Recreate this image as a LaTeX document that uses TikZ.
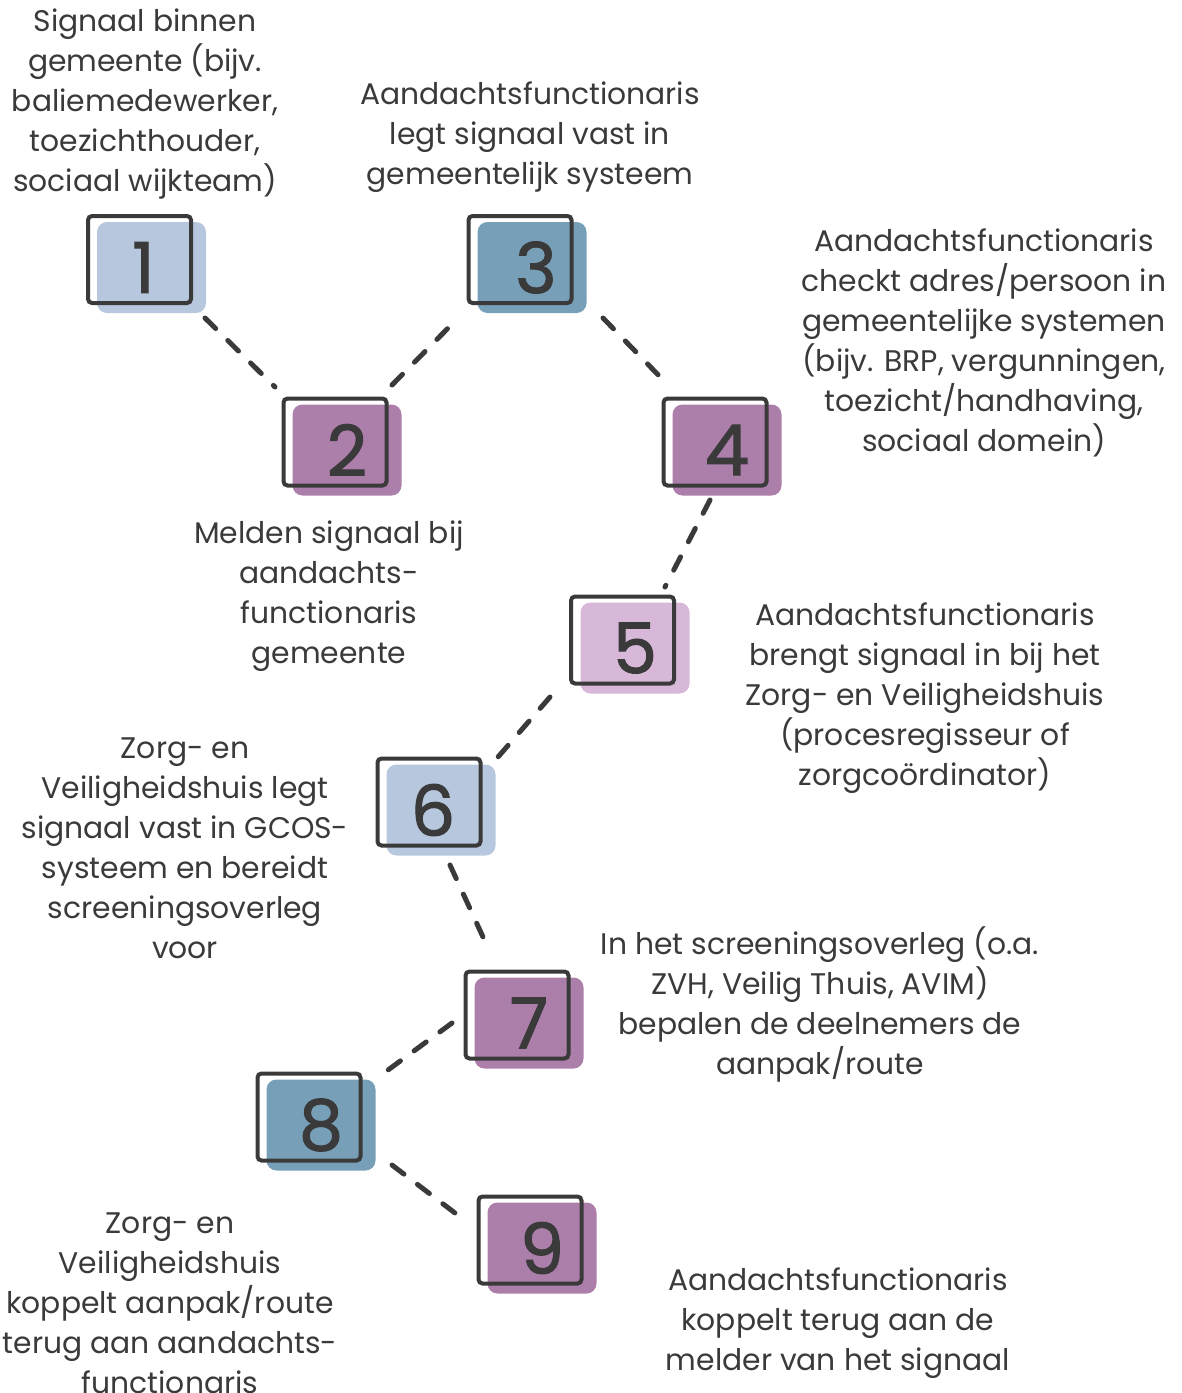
\documentclass[tikz,border=0pt]{standalone}
\usepackage{fontspec}
\setmainfont{Poppins}
\newfontfamily\digitfont[FakeBold=1.6]{Poppins}
\usetikzlibrary{calc}
\definecolor{ink}{HTML}{3A3A3A}
\definecolor{paleblue}{HTML}{B7C7DE}
\definecolor{steelblue}{HTML}{789FB8}
\definecolor{mauve}{HTML}{AC7EAA}
\definecolor{lilac}{HTML}{D7B8D8}
\tikzset{
  card/.style={fill=#1,rounded corners=5pt,minimum width=54.5pt,minimum height=45.5pt,inner sep=0pt,text=ink,font=\digitfont\fontsize{35}{35}\selectfont},
  boxline/.style={draw=ink,line width=2pt,rounded corners=2pt,minimum width=51.5pt,minimum height=43.5pt,inner sep=0pt},
  steptext/.style={align=center,text=ink,inner sep=0pt,font=\fontsize{14.9}{20}\selectfont},
  link/.style={draw=ink,line width=2.5pt,line cap=round,dash pattern=on 7.5pt off 8.5pt}
}
\begin{document}
\begin{tikzpicture}[x=0.5pt,y=-0.5pt]
    \useasboundingbox(0,0)rectangle(1182,1393);
        \node(f1)at(151.5,267.5)[card=paleblue]{\hspace{-8pt}1};
        \node(f2)at(347,450)[card=mauve]{2};
        \node(f3)at(532,267.5)[card=steelblue]{\hspace{4pt}3};
        \node(f4)at(727,450)[card=mauve]{4};
        \node(f5)at(635,648)[card=lilac]{5};
        \node(f6)at(441,810)[card=paleblue]{\hspace{-8pt}6};
        \node(f7)at(529,1023)[card=mauve]{7};
        \node(f8)at(321,1125)[card=steelblue]{8};
        \node(f9)at(542,1248)[card=mauve]{9};
        \node(n1)at(139.5,259.5)[boxline]{};
        \node(n2)at(335,442)[boxline]{};
        \node(n3)at(520,259.5)[boxline]{};
        \node(n4)at(715,442)[boxline]{};
        \node(n5)at(622.5,640)[boxline]{};
        \node(n6)at(429,802)[boxline]{};
        \node(n7)at(517,1015)[boxline]{};
        \node(n8)at(309,1117)[boxline]{};
        \node(n9)at(530,1240)[boxline]{};
        \node(t1)at(145,104)[steptext]{Signaal binnen\\gemeente (bijv.\\baliemedewerker,\\toezichthouder,\\sociaal wijkteam)};
        \node(t2)at(329,596)[steptext]{Melden signaal bij\\aandachts-\\functionaris\\gemeente};
        \node(t3)at(530,137)[steptext]{Aandachtsfunctionaris\\legt signaal vast in\\gemeentelijk systeem};
        \node(t4)at(984,343)[steptext]{Aandachtsfunctionaris\\checkt adres/persoon in\\gemeentelijke systemen\\(bijv. BRP, vergunningen,\\toezicht/handhaving,\\sociaal domein)};
        \node(t5)at(925,698)[steptext]{Aandachtsfunctionaris\\brengt signaal in bij het\\Zorg- en Veiligheidshuis\\(procesregisseur of\\zorgcoördinator)};
        \node(t6)at(185,848)[steptext]{Zorg- en\\Veiligheidshuis legt\\signaal vast in GCOS-\\systeem en bereidt\\screeningsoverleg\\voor};
        \node(t7)at(820,1004)[steptext]{In het screeningsoverleg (o.a.\\ZVH, Veilig Thuis, AVIM)\\bepalen de deelnemers de\\aanpak/route};
        \node(t8)at(170,1303)[steptext]{Zorg- en\\Veiligheidshuis\\koppelt aanpak/route\\terug aan aandachts-\\functionaris};
        \node(t9)at(838,1323)[steptext]{Aandachtsfunctionaris\\koppelt terug aan de\\melder van het signaal};
        \draw[link]($(n1)+(65.5,58.5)$)--($(n2)+(-60,-55)$);
        \draw[link]($(n2)+(57,-57)$)--($(n3)+(-62,58.5)$);
        \draw[link]($(n3)+(83,58.5)$)--($(n4)+(-47,-57)$);
        \draw[link]($(n4)+(-5,58)$)--($(n5)+(42.5,-53)$);
        \draw[link]($(n5)+(-72.5,57)$)--($(n6)+(69,-45)$);
        \draw[link]($(n6)+(21,63)$)--($(n7)+(-34,-78)$);
        \draw[link]($(n7)+(-65,8)$)--($(n8)+(79,-47)$);
        \draw[link]($(n8)+(83,48)$)--($(n9)+(-75,-27)$);
    \end{tikzpicture}
\end{document}
